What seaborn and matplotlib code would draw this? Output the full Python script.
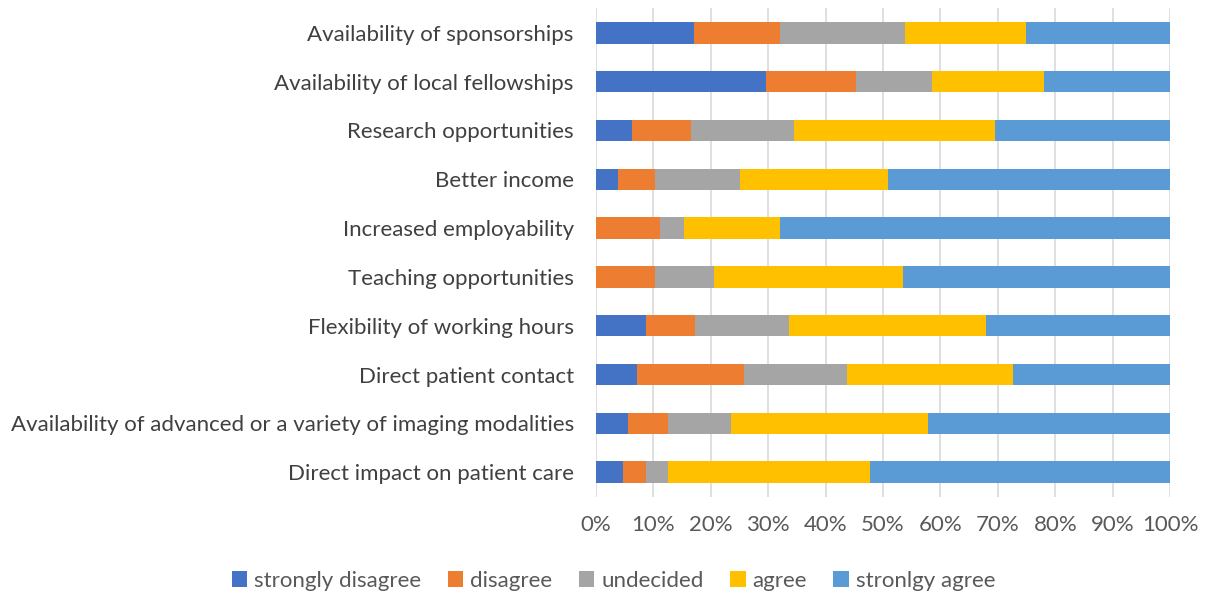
import matplotlib
matplotlib.use("Agg")
import matplotlib.pyplot as plt
import seaborn as sns
import pandas as pd
import numpy as np
from matplotlib.patches import Patch
from matplotlib.ticker import PercentFormatter

categories = [
    "Availability of sponsorships",
    "Availability of local fellowships",
    "Research opportunities",
    "Better income",
    "Increased employability",
    "Teaching opportunities",
    "Flexibility of working hours",
    "Direct patient contact",
    "Availability of advanced or a variety of imaging modalities",
    "Direct impact on patient care",
]
strongly_disagree = [17.1, 29.6, 6.3, 3.9, 0.0, 0.0, 8.7, 7.1, 5.5, 4.7]
disagree = [14.9, 15.7, 10.2, 6.3, 11.1, 10.2, 8.5, 18.7, 7.0, 4.0]
undecided = [21.9, 13.3, 17.9, 14.8, 4.2, 10.3, 16.4, 18.0, 11.0, 3.8]
agree = [21.0, 19.4, 35.1, 25.8, 16.7, 32.9, 34.4, 28.8, 34.3, 35.2]
strongly_agree = [25.1, 22.0, 30.5, 49.2, 68.0, 46.6, 32.0, 27.4, 42.2, 52.3]

series_names = ["strongly disagree", "disagree", "undecided", "agree", "stronlgy agree"]
series_values = [strongly_disagree, disagree, undecided, agree, strongly_agree]
colors = ["#4472C4", "#ED7D31", "#A5A5A5", "#FFC000", "#5B9BD5"]

sns.set_theme(style="white")
plt.rcParams["font.family"] = ["Lato", "DejaVu Sans"]

fig = plt.figure(figsize=(12.10, 5.99), dpi=100)
ax = fig.add_axes([0.4926, 0.171, 0.4744, 0.815])

arr = np.array(series_values, dtype=float)
totals = arr.sum(axis=0)
pct = arr / totals * 100
cum = np.cumsum(pct, axis=0)

for i in range(len(series_names) - 1, -1, -1):
    df = pd.DataFrame({"cat": categories, "val": cum[i]})
    sns.barplot(data=df, x="val", y="cat", order=categories, orient="h",
                color=colors[i], saturation=1, width=0.44, ax=ax,
                linewidth=0, zorder=3)

ax.set_xlim(0, 100)
ax.set_xticks(np.arange(0, 101, 10))
ax.xaxis.set_major_formatter(PercentFormatter(decimals=0))
ax.grid(axis="x", color="#D9D9D9", linewidth=1.2, zorder=0)
ax.set_axisbelow(True)
for s in ax.spines.values():
    s.set_visible(False)
ax.set_xlabel("")
ax.set_ylabel("")
ax.tick_params(axis="x", colors="#595959", labelsize=16, length=0, pad=13)
ax.tick_params(axis="y", colors="#404040", labelsize=16, length=0, pad=16)
for lbl in ax.get_xticklabels():
    lbl.set_color("#595959")
for lbl in ax.get_yticklabels():
    lbl.set_color("#404040")
ax.set_ylim(len(categories) - 0.5, -0.5)

handles = [Patch(facecolor=c, edgecolor="none") for c in colors]
fig.legend(handles, series_names, loc="center", bbox_to_anchor=(0.507, 0.03),
           ncol=5, frameon=False, fontsize=16, handlelength=0.7,
           handleheight=0.7, columnspacing=1.2, handletextpad=0.3,
           labelcolor="#595959")

fig.savefig("out.png", dpi=100)
